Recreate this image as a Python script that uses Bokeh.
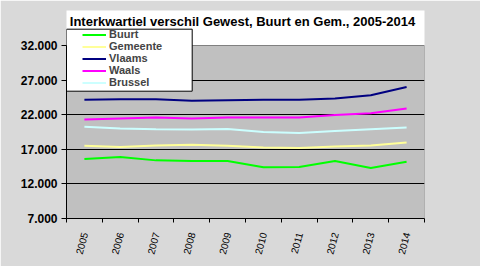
from bokeh.plotting import figure
from bokeh.models import Legend, LegendItem, FixedTicker, Label, Range1d
from bokeh.embed import file_html
from bokeh.resources import INLINE

years = ["2005", "2006", "2007", "2008", "2009", "2010", "2011", "2012", "2013", "2014"]
buurt = [15600, 15900, 15400, 15300, 15300, 14400, 14450, 15300, 14300, 15200]
gemeente = [17500, 17350, 17550, 17650, 17500, 17250, 17200, 17400, 17550, 18000]
vlaams = [24150, 24250, 24250, 24000, 24100, 24150, 24150, 24350, 24800, 26000]
waals = [21300, 21450, 21600, 21450, 21600, 21600, 21600, 21950, 22200, 22900]
brussel = [20250, 20000, 19900, 19850, 19950, 19500, 19350, 19650, 19900, 20150]
y_ticks = [7000, 12000, 17000, 22000, 27000, 32000]
y_tick_labels = ["7.000", "12.000", "17.000", "22.000", "27.000", "32.000"]
series_names = ["Buurt", "Gemeente", "Vlaams", "Waals", "Brussel"]
series_colors = ["#00ff00", "#ffff99", "#000080", "#ff00ff", "#ccffff"]
series_values = [buurt, gemeente, vlaams, waals, brussel]
title_text = "Interkwartiel verschil Gewest, Buurt en Gem., 2005-2014"

FONT = "Liberation Sans"
W, H = 480, 266
FRAME_L, FRAME_R, FRAME_T, FRAME_B = 66, 424, 10, 218
AREA_T = 45.0
n = len(years)
y_lo, y_hi = y_ticks[0], y_ticks[-1]
px_per_x = (FRAME_R - FRAME_L) / n
px_per_y = (FRAME_B - AREA_T) / (y_hi - y_lo)
y_top = y_lo + (FRAME_B - FRAME_T) / px_per_y


def to_x(px):
    return (px - FRAME_L) / px_per_x


def to_y(py):
    return y_lo + (FRAME_B - py) / px_per_y


xs = [i + 0.5 for i in range(n)]

p = figure(width=W, height=H, output_backend="svg", toolbar_location=None,
           x_range=Range1d(0, n), y_range=Range1d(y_lo, y_top),
           min_border_left=FRAME_L, min_border_right=W - FRAME_R,
           min_border_top=FRAME_T, min_border_bottom=H - FRAME_B,
           title=None)
p.background_fill_alpha = 0
p.border_fill_color = "#d9d9d9"
p.outline_line_color = None

# grey plotting area + its grey outline
p.varea(x=[0, n], y1=[y_lo, y_lo], y2=[y_hi, y_hi], fill_color="#c0c0c0", level="image")
p.line(x=[0, n, n], y=[y_hi, y_hi, y_lo], line_color="#808080", line_width=1, level="image")

inner = y_ticks[1:-1]
p.xgrid.grid_line_color = None
p.ygrid.ticker = FixedTicker(ticks=inner)
p.ygrid.grid_line_color = "black"

renderers = []
for name, vals, col in zip(series_names, series_values, series_colors):
    r = p.line(xs, vals, line_color=col, line_width=2)
    renderers.append((name, r))

# legend box (drawn in pixel-derived data positions)
bx = [to_x(FRAME_L), to_x(191.7)]
p.varea(x=bx, y1=[to_y(90.7)] * 2, y2=[to_y(28.7)] * 2, fill_color="white")
p.line(x=[bx[0], bx[1], bx[1], bx[0], bx[0]],
       y=[to_y(28.7), to_y(28.7), to_y(90.7), to_y(90.7), to_y(28.7)],
       line_color="black", line_width=1)

ya = p.yaxis[0]
ya.ticker = FixedTicker(ticks=y_ticks)
ya.bounds = (y_lo, y_hi)
ya.major_label_overrides = {t: l for t, l in zip(y_ticks, y_tick_labels)}
ya.minor_tick_line_color = None
ya.major_tick_out = 5
ya.major_tick_in = 0
ya.major_label_standoff = 4
ya.axis_line_color = "black"
ya.major_label_text_font = FONT
ya.major_label_text_font_style = "bold"
ya.major_label_text_font_size = "12px"
ya.major_label_text_color = "black"

xa = p.xaxis[0]
xa.ticker = FixedTicker(ticks=xs, minor_ticks=list(range(n + 1)))
xa.major_label_overrides = {x: y for x, y in zip(xs, years)}
xa.major_tick_line_color = None
xa.minor_tick_line_color = "black"
xa.minor_tick_out = 4
xa.minor_tick_in = 0
xa.major_label_orientation = 1.31
xa.major_label_standoff = 8
xa.axis_line_color = "black"
xa.major_label_text_font = FONT
xa.major_label_text_font_size = "10px"
xa.major_label_text_color = "black"

legend = Legend(items=[LegendItem(label=nm, renderers=[r]) for nm, r in renderers],
                location=(82 - FRAME_L, 130), padding=0, margin=0, spacing=0,
                label_height=11, glyph_height=11, glyph_width=24, label_standoff=3,
                border_line_color=None, background_fill_alpha=0,
                label_text_font=FONT, label_text_font_style="bold", label_text_font_size="11px")
p.add_layout(legend)

title = Label(x=to_x(242), y=to_y(21), text=title_text,
              text_align="center", text_baseline="middle", text_font=FONT,
              text_font_style="bold", text_font_size="13px", text_color="black")
p.add_layout(title)

open("out.html", "w").write(file_html(p, INLINE))
